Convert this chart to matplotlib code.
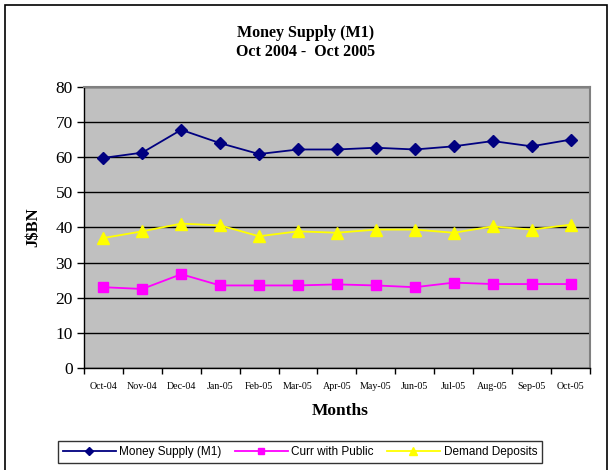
"""
Money Supply (M1) chart, Oct 2004 - Oct 2005.
"""

import numpy as np
import matplotlib
matplotlib.use("Agg")
import matplotlib.pyplot as plt
from matplotlib.patches import Rectangle

months = ["Oct-04", "Nov-04", "Dec-04", "Jan-05", "Feb-05", "Mar-05", "Apr-05",
          "May-05", "Jun-05", "Jul-05", "Aug-05", "Sep-05", "Oct-05"]
money_supply = [59.8, 61.3, 67.8, 64.0, 60.9, 62.2, 62.2, 62.7, 62.2, 63.1, 64.6, 63.1, 65.0]
curr_public = [23.0, 22.5, 26.7, 23.5, 23.5, 23.5, 23.8, 23.5, 23.0, 24.3, 23.9, 23.9, 23.9]
demand_deposits = [37.0, 38.9, 41.1, 40.6, 37.5, 38.9, 38.5, 39.4, 39.4, 38.5, 40.3, 39.4, 40.8]

serif = "Liberation Serif"
sans = "Liberation Sans"

fig = plt.figure(figsize=(6.12, 4.70), dpi=100)
ax = fig.add_axes([0.137, 0.217, 0.827, 0.598])
ax.set_facecolor("#C0C0C0")

x = np.arange(len(months))
ax.plot(x, money_supply, color="#000080", marker="D", markersize=6.5, lw=1.3,
        label="Money Supply (M1)")
ax.plot(x, curr_public, color="#FF00FF", marker="s", markersize=7.5, lw=1.3,
        label="Curr with Public")
ax.plot(x, demand_deposits, color="#FFFF00", marker="^", markersize=8.5, lw=1.3,
        label="Demand Deposits")

ax.set_xlim(-0.5, len(months) - 0.5)
ax.set_ylim(0, 80)
ax.set_yticks(range(0, 81, 10))
ax.yaxis.grid(True, color="black", lw=1)
ax.set_axisbelow(True)

ax.set_xticks(np.arange(-0.5, len(months), 1.0))
ax.set_xticklabels([])
ax.set_xticks(x, minor=True)
ax.set_xticklabels(months, minor=True, fontsize=7.2, family=serif)
ax.tick_params(axis="x", which="minor", length=0, pad=10)
ax.tick_params(axis="x", which="major", length=4, width=1, direction="out")
ax.tick_params(axis="y", length=5, width=1, direction="out", labelsize=12.5, pad=3)
for lab in ax.get_yticklabels():
    lab.set_family(serif)

for side in ("top", "right"):
    ax.spines[side].set_color("#808080")
    ax.spines[side].set_linewidth(1.5)
for side in ("left", "bottom"):
    ax.spines[side].set_color("black")
    ax.spines[side].set_linewidth(1)

fig.text(0.5, 0.91, "Money Supply (M1)\nOct 2004 -  Oct 2005", ha="center", va="center",
         fontsize=11.5, fontweight="bold", family=serif, linespacing=1.25)
ax.set_ylabel("J$BN", fontsize=12, fontweight="bold", family=serif, labelpad=10)
fig.text(0.555, 0.126, "Months", ha="center", va="center",
         fontsize=12.5, fontweight="bold", family=serif)

leg = fig.legend(loc="center", bbox_to_anchor=(0.49, 0.038), ncol=3, frameon=True,
                 fancybox=False, prop={"family": sans, "size": 8.5},
                 handlelength=4.5, columnspacing=1.1, handletextpad=0.3,
                 borderpad=0.4, markerscale=0.6)
leg.get_frame().set_edgecolor("black")
leg.get_frame().set_linewidth(1)

fig.patches.append(Rectangle((5 / 612, -0.05), 602 / 612, 1 - 5 / 470 + 0.05,
                             transform=fig.transFigure, fill=False,
                             edgecolor="black", lw=1.2))

fig.savefig("out.png", dpi=100)
